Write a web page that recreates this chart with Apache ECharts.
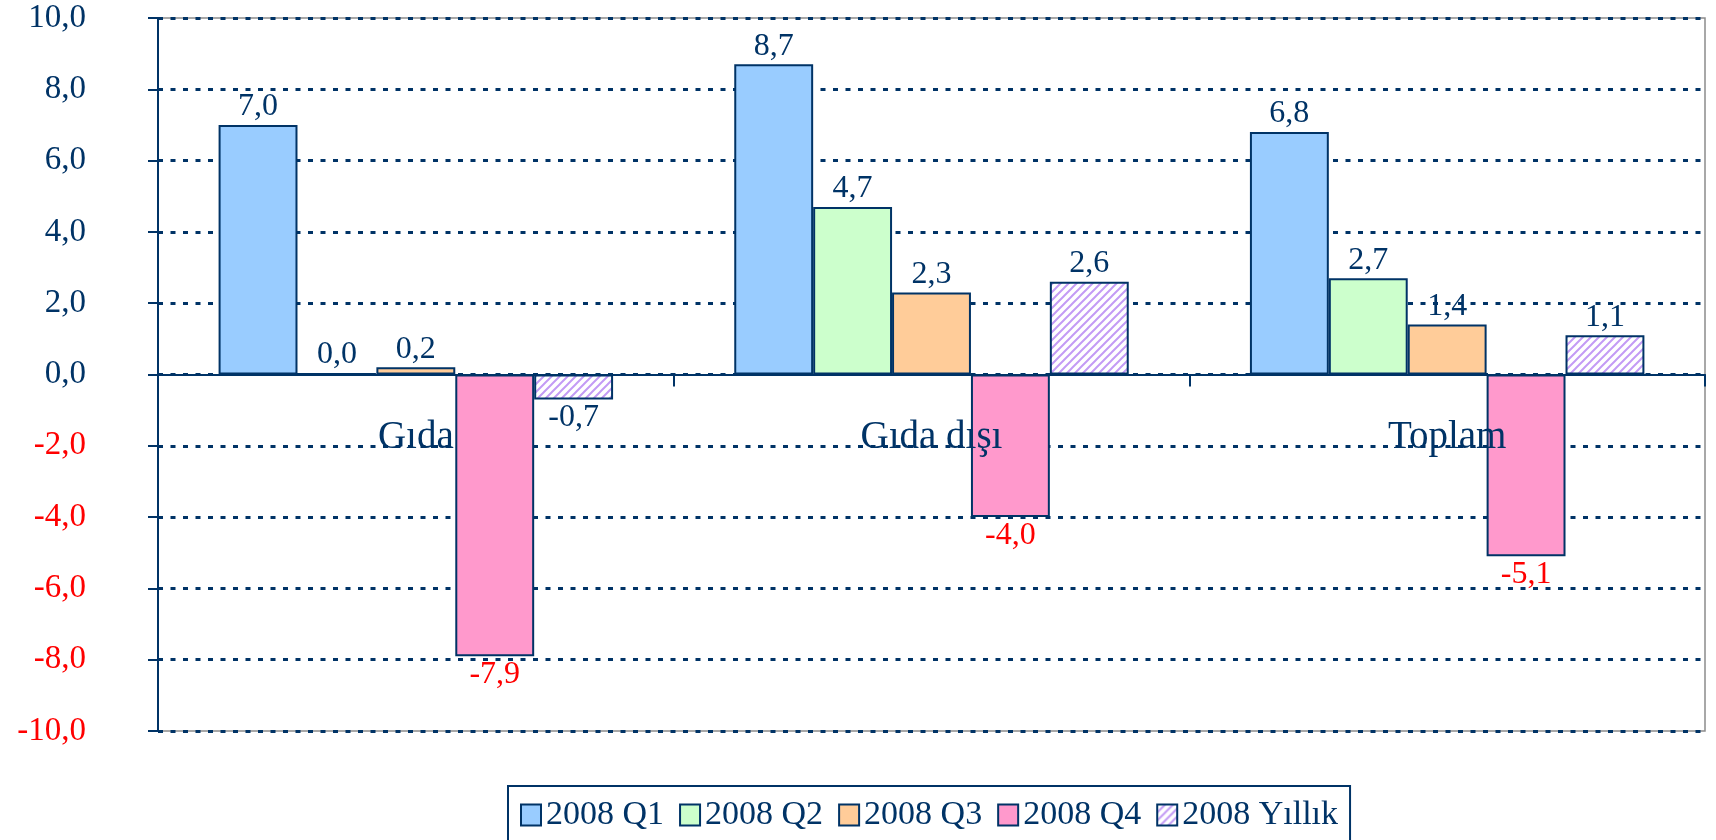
<!DOCTYPE html>
<html>
<head>
<meta charset="utf-8">
<script src="https://cdn.jsdelivr.net/npm/echarts@6/dist/echarts.min.js"></script>
<style>
  html, body { margin: 0; padding: 0; background: #fff; }
  #chart { width: 1716px; height: 840px; }
</style>
</head>
<body>
<div id="chart"></div>
<script>
const categories = ['Gıda', 'Gıda dışı', 'Toplam']
const seriesNames = ['2008 Q1', '2008 Q2', '2008 Q3', '2008 Q4', '2008 Yıllık']
const q1 = [7.0, 8.7, 6.8]
const q2 = [0.03, 4.7, 2.7]
const q3 = [0.2, 2.3, 1.4]
const q4 = [-7.9, -4.0, -5.1]
const yillik = [-0.7, 2.6, 1.1]

const NAVY = '#003366'
const FONT = 'Liberation Serif'

// hatch pattern for the yearly bars
function hatch() {
  const c = document.createElement('canvas')
  c.width = 8; c.height = 8
  const ctx = c.getContext('2d')
  ctx.fillStyle = '#fff'
  ctx.fillRect(0, 0, 8, 8)
  ctx.strokeStyle = '#C39BF5'
  ctx.lineWidth = 2
  ctx.beginPath()
  ctx.moveTo(-2, 10); ctx.lineTo(10, -2)
  ctx.moveTo(-2, 2); ctx.lineTo(2, -2)
  ctx.moveTo(6, 10); ctx.lineTo(10, 6)
  ctx.stroke()
  return { image: c, repeat: 'repeat' }
}

const fmt = v => v.toFixed(1).replace('.', ',')

function makeSeries(name, data, fill, labelColor) {
  return {
    name: name,
    type: 'bar',
    barGap: '0%',
    barCategoryGap: '23.5%',
    itemStyle: { color: fill, borderColor: NAVY, borderWidth: 2 },
    label: {
      show: true,
      color: labelColor,
      fontFamily: FONT,
      fontSize: 32,
      distance: 2,
      formatter: p => fmt(p.value)
    },
    data: data.map(v => ({
      value: v,
      label: { position: v < 0 ? 'bottom' : 'top' }
    }))
  }
}

const chart = echarts.init(document.getElementById('chart'))
chart.setOption({
  animation: false,
  grid: {
    left: 158, right: 11, top: 18, bottom: 109,
    show: true, borderColor: '#8c8c8c', borderWidth: 1.5
  },
  legend: {
    top: 786,
    left: 508,
    padding: [12, 12, 40, 12],
    borderColor: NAVY,
    borderWidth: 2,
    icon: 'rect',
    itemWidth: 20,
    itemHeight: 21,
    itemGap: 15,
    textStyle: { color: NAVY, fontFamily: FONT, fontSize: 34 },
    data: seriesNames
  },
  xAxis: {
    type: 'category',
    data: categories,
    z: 5,
    offset: -356.5,
    axisLine: { onZero: false, lineStyle: { color: NAVY, width: 2 } },
    axisTick: { show: true, length: 12, lineStyle: { color: NAVY, width: 2 } },
    axisLabel: { margin: 44, color: NAVY, fontFamily: FONT, fontSize: 39 }
  },
  yAxis: {
    type: 'value',
    min: -10, max: 10, interval: 2,
    axisLine: { show: true, lineStyle: { color: NAVY, width: 2 } },
    axisTick: { show: true, length: 10, lineStyle: { color: NAVY, width: 2 } },
    axisLabel: {
      margin: 72,
      fontFamily: FONT,
      fontSize: 33,
      color: v => (v < 0 ? '#ff0000' : NAVY),
      formatter: v => fmt(v)
    },
    splitLine: { lineStyle: { color: NAVY, width: 3, type: [5, 7.5] } }
  },
  series: [
    makeSeries(seriesNames[0], q1, '#99CCFF', NAVY),
    makeSeries(seriesNames[1], q2, '#CCFFCC', NAVY),
    makeSeries(seriesNames[2], q3, '#FFCC99', NAVY),
    makeSeries(seriesNames[3], q4, '#FF99CC', '#ff0000'),
    makeSeries(seriesNames[4], yillik, hatch(), NAVY)
  ]
})
</script>
</body>
</html>
